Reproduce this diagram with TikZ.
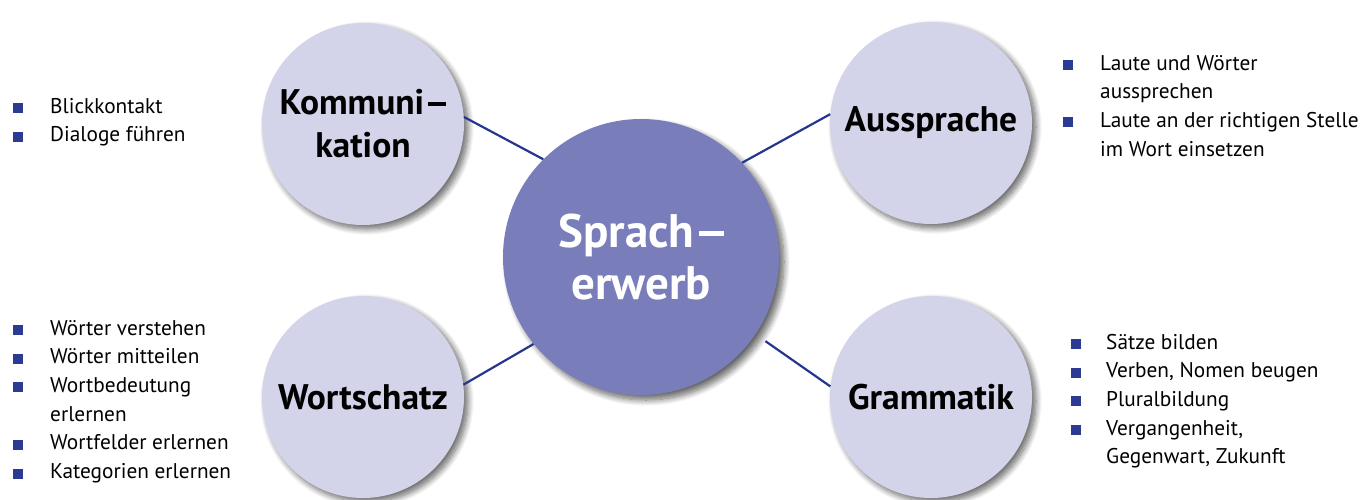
\documentclass[tikz,border=0pt]{standalone}
\usepackage{fontspec}
\setmainfont{PT Sans}
\usetikzlibrary{shadows.blur}
\definecolor{satfill}{HTML}{D3D3EA}
\definecolor{hubfill}{HTML}{797DBA}
\definecolor{linkblue}{HTML}{25368F}
\definecolor{bulletblue}{HTML}{2B3B91}
\newcommand{\blt}{\textcolor{bulletblue}{\rule{10pt}{10pt}}}
\newcommand{\mydash}{\kern0.1em\rule[0.25em]{0.52em}{0.1em}}
\newcommand{\listfont}{\fontsize{21.3}{28.7}\selectfont}
\tikzset{
  sat/.style={circle, fill=satfill, minimum size=202pt, inner sep=0pt, align=center,
    font=\fontsize{35.5}{43}\selectfont\bfseries,
    blur shadow={shadow xshift=4pt, shadow yshift=-4pt, shadow blur steps=10, shadow blur radius=6pt, shadow opacity=60}},
  hub/.style={circle, fill=hubfill, minimum size=276pt, inner sep=0pt, align=center, text=white,
    font=\fontsize{47}{52}\selectfont\bfseries,
    blur shadow={shadow xshift=5pt, shadow yshift=-5pt, shadow blur steps=10, shadow blur radius=6pt, shadow opacity=60}},
  link/.style={draw=linkblue, line width=2.2pt},
  lst/.style={anchor=base west, inner sep=0pt, font=\listfont},
}
\begin{document}
\begin{tikzpicture}[x=1pt,y=-1pt]
\useasboundingbox (0,0) rectangle (1362,499);
\node[hub] (hub) at (641,257) {Sprach\mydash\\erwerb};
\node[sat] (komm) at (363,124) {Kommuni\mydash\\kation};
\node[sat] (auss) at (931,123) {Aussprache};
\node[sat] (wort) at (363,397) {Wortschatz};
\node[sat] (gram) at (931,397) {Grammatik};
\draw[link] (komm.4.9) -- (hub.135);
\draw[link] (hub.43) -- (auss.175);
\draw[link] (wort.7.5) -- (hub.219);
\draw[link, shorten <=12pt] (hub.-34) -- (gram.174);
\node[lst] (lkomm) at (13,113) {\begin{tabular}[t]{@{}p{37pt}@{}l@{}}
\blt & Blickkontakt\\
\blt & Dialoge führen
\end{tabular}};
\node[lst] (lauss) at (1063,70) {\begin{tabular}[t]{@{}p{37pt}@{}l@{}}
\blt & Laute und Wörter\\
 & aussprechen\\
\blt & Laute an der richtigen Stelle\\
 & im Wort einsetzen
\end{tabular}};
\node[lst] (lwort) at (13,335) {\begin{tabular}[t]{@{}p{37pt}@{}l@{}}
\blt & Wörter verstehen\\
\blt & Wörter mitteilen\\
\blt & Wortbedeutung\\
 & erlernen\\
\blt & Wortfelder erlernen\\
\blt & Kategorien erlernen
\end{tabular}};
\node[lst] (lgram) at (1071,349) {\begin{tabular}[t]{@{}p{35pt}@{}l@{}}
\blt & Sätze bilden\\
\blt & Verben, Nomen beugen\\
\blt & Pluralbildung\\
\blt & Vergangenheit,\\
 & Gegenwart, Zukunft
\end{tabular}};
\end{tikzpicture}
\end{document}
